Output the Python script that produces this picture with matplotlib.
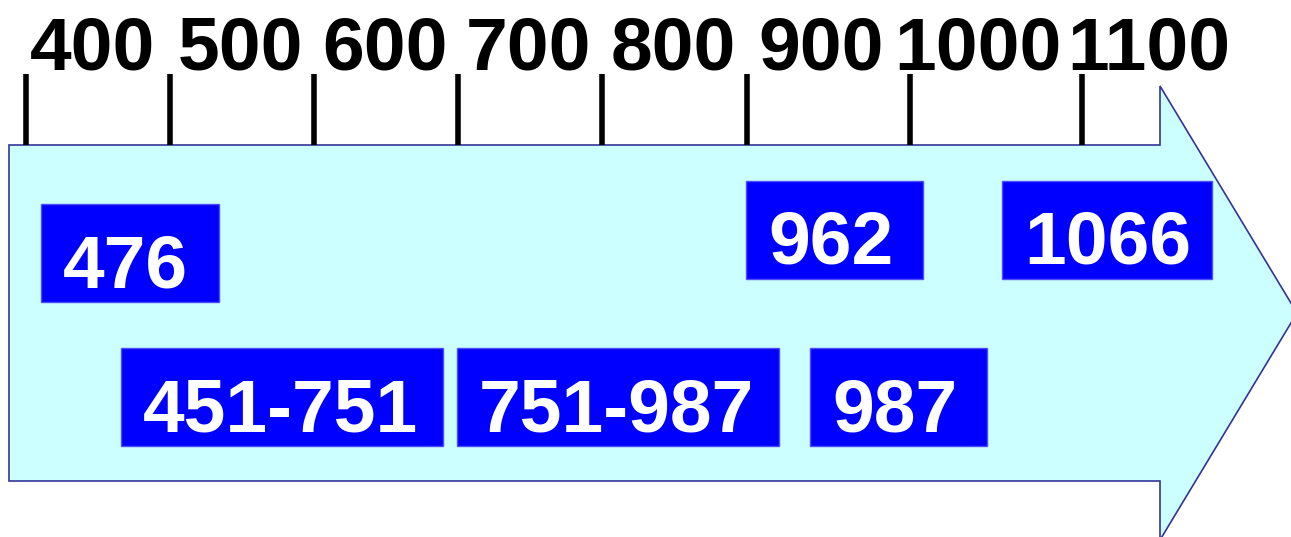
import matplotlib.pyplot as plt
from matplotlib.patches import Polygon, Rectangle

# timeline scale labels
tick_labels = ['400', '500', '600', '700', '800', '900', '1000', '1100']
# event boxes (row 0 = upper row, row 1 = lower row)
event_labels = ['476', '962', '1066', '451-751', '751-987', '987']
event_rows = [0, 0, 0, 1, 1, 1]

# layout in canvas pixels
tick_x = [26, 170, 314, 458, 602, 747, 910, 1082]
label_x = [30, 178, 322, 466, 611, 758, 894, 1067]
box_left = [41, 746, 1002, 121, 457, 810]
box_right = [219, 923, 1212, 443, 779, 987]
row_top = {0: [204, 181, 181], 1: [348, 348, 348]}
box_h = 98

plt.rcParams['font.family'] = ['Liberation Sans', 'DejaVu Sans']

fig = plt.figure(figsize=(12.91, 5.37), dpi=100)
ax = fig.add_axes([0, 0, 1, 1])
ax.set_xlim(0, 1291)
ax.set_ylim(537, 0)
ax.axis('off')

# big arrow
arrow = Polygon([(9, 145), (1160, 145), (1160, 86), (1297, 313),
                 (1160, 540), (1160, 481), (9, 481)],
                closed=True, facecolor='#ccffff', edgecolor='#333399',
                linewidth=1.2, clip_on=False)
ax.add_patch(arrow)

# scale ticks and labels
for lab, tx, lx in zip(tick_labels, tick_x, label_x):
    ax.plot([tx, tx], [74, 145], color='black', linewidth=4, solid_capstyle='butt')
    ax.text(lx, 70, lab, fontsize=54, fontweight='bold', color='black',
            ha='left', va='baseline')

# event boxes
tops = row_top[0] + row_top[1]
for lab, l, r, t in zip(event_labels, box_left, box_right, tops):
    ax.add_patch(Rectangle((l, t), r - l, box_h, facecolor='#0000ff',
                           edgecolor='#4d4dff', linewidth=1))
    ax.text(l + 22, t + box_h - 15, lab, fontsize=54, fontweight='bold',
            color='white', ha='left', va='baseline')

fig.savefig('out.png', dpi=100)
